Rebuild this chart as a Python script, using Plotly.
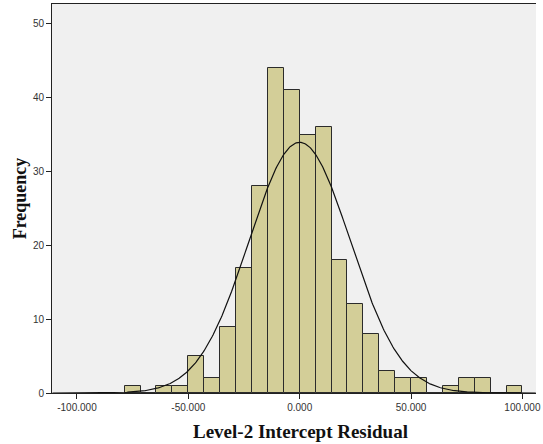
import numpy as np
import plotly.graph_objects as go

# Histogram data (bin width = 50/7)
bin_width = 50.0 / 7.0
bin_index = list(range(-11, 14))
counts = [1, 0, 1, 1, 5, 2, 9, 17, 28, 44, 41, 35, 36, 18, 12, 8, 3, 2, 2, 0, 1, 2, 2, 0, 1]
bin_centers = [(k + 0.5) * bin_width for k in bin_index]

# Normal curve parameters
curve_mean = 0.0
curve_sd = 22.74
n_total = sum(counts)

x_ticks = [-100, -50, 0, 50, 100]
x_tick_labels = ["-100.000", "-50.000", "0.000", "50.000", "100.000"]
y_ticks = [0, 10, 20, 30, 40, 50]

xc = np.linspace(-111, 106, 600)
yc = n_total * bin_width / (curve_sd * np.sqrt(2 * np.pi)) * np.exp(-0.5 * ((xc - curve_mean) / curve_sd) ** 2)

L, R, T, B = 52, 2, 4, 51
W, H = 543, 444
pw = W - L - R
ph = H - T - B


def px_x(x):
    return (x - L) / pw


def px_y(y):
    return 1 - (y - T) / ph


fig = go.Figure()
fig.add_trace(go.Bar(
    x=bin_centers, y=counts, width=bin_width,
    marker=dict(color="#D3CE98", line=dict(color="#2b2b2b", width=1)),
    hoverinfo="skip",
))
fig.add_trace(go.Scatter(x=xc, y=yc, mode="lines", line=dict(color="#111111", width=1.2), hoverinfo="skip"))

fig.update_layout(
    width=W, height=H,
    margin=dict(l=L, r=R, t=T, b=B),
    paper_bgcolor="white", plot_bgcolor="#F0F0F0",
    showlegend=False, bargap=0,
    xaxis=dict(
        range=[-111.2, 106.1], tickvals=x_ticks, ticktext=x_tick_labels,
        ticks="outside", ticklen=5, tickcolor="#222", tickwidth=1,
        showline=True, linecolor="#222", linewidth=1, mirror=True,
        showgrid=False, zeroline=False, ticklabeloverflow="allow",
        tickfont=dict(family="Liberation Sans, Arial", size=10, color="#333"),
    ),
    yaxis=dict(
        range=[0, 52.7], tickvals=y_ticks,
        ticks="outside", ticklen=5, tickcolor="#222", tickwidth=1,
        showline=True, linecolor="#222", linewidth=1,
        showgrid=False, zeroline=False,
        tickfont=dict(family="Liberation Sans, Arial", size=10, color="#333"),
    ),
    annotations=[
        dict(text="<b>Level-2 Intercept Residual</b>", x=px_x(303), y=px_y(431), xref="paper", yref="paper",
             showarrow=False, font=dict(family="Liberation Serif, Times New Roman", size=19, color="#111"),
             xanchor="center", yanchor="middle"),
        dict(text="<b>Frequency</b>", x=px_x(20), y=px_y(198), xref="paper", yref="paper",
             textangle=-90, showarrow=False,
             font=dict(family="Liberation Serif, Times New Roman", size=18, color="#111"),
             xanchor="center", yanchor="middle"),
    ],
)

fig.write_html("out.html")
